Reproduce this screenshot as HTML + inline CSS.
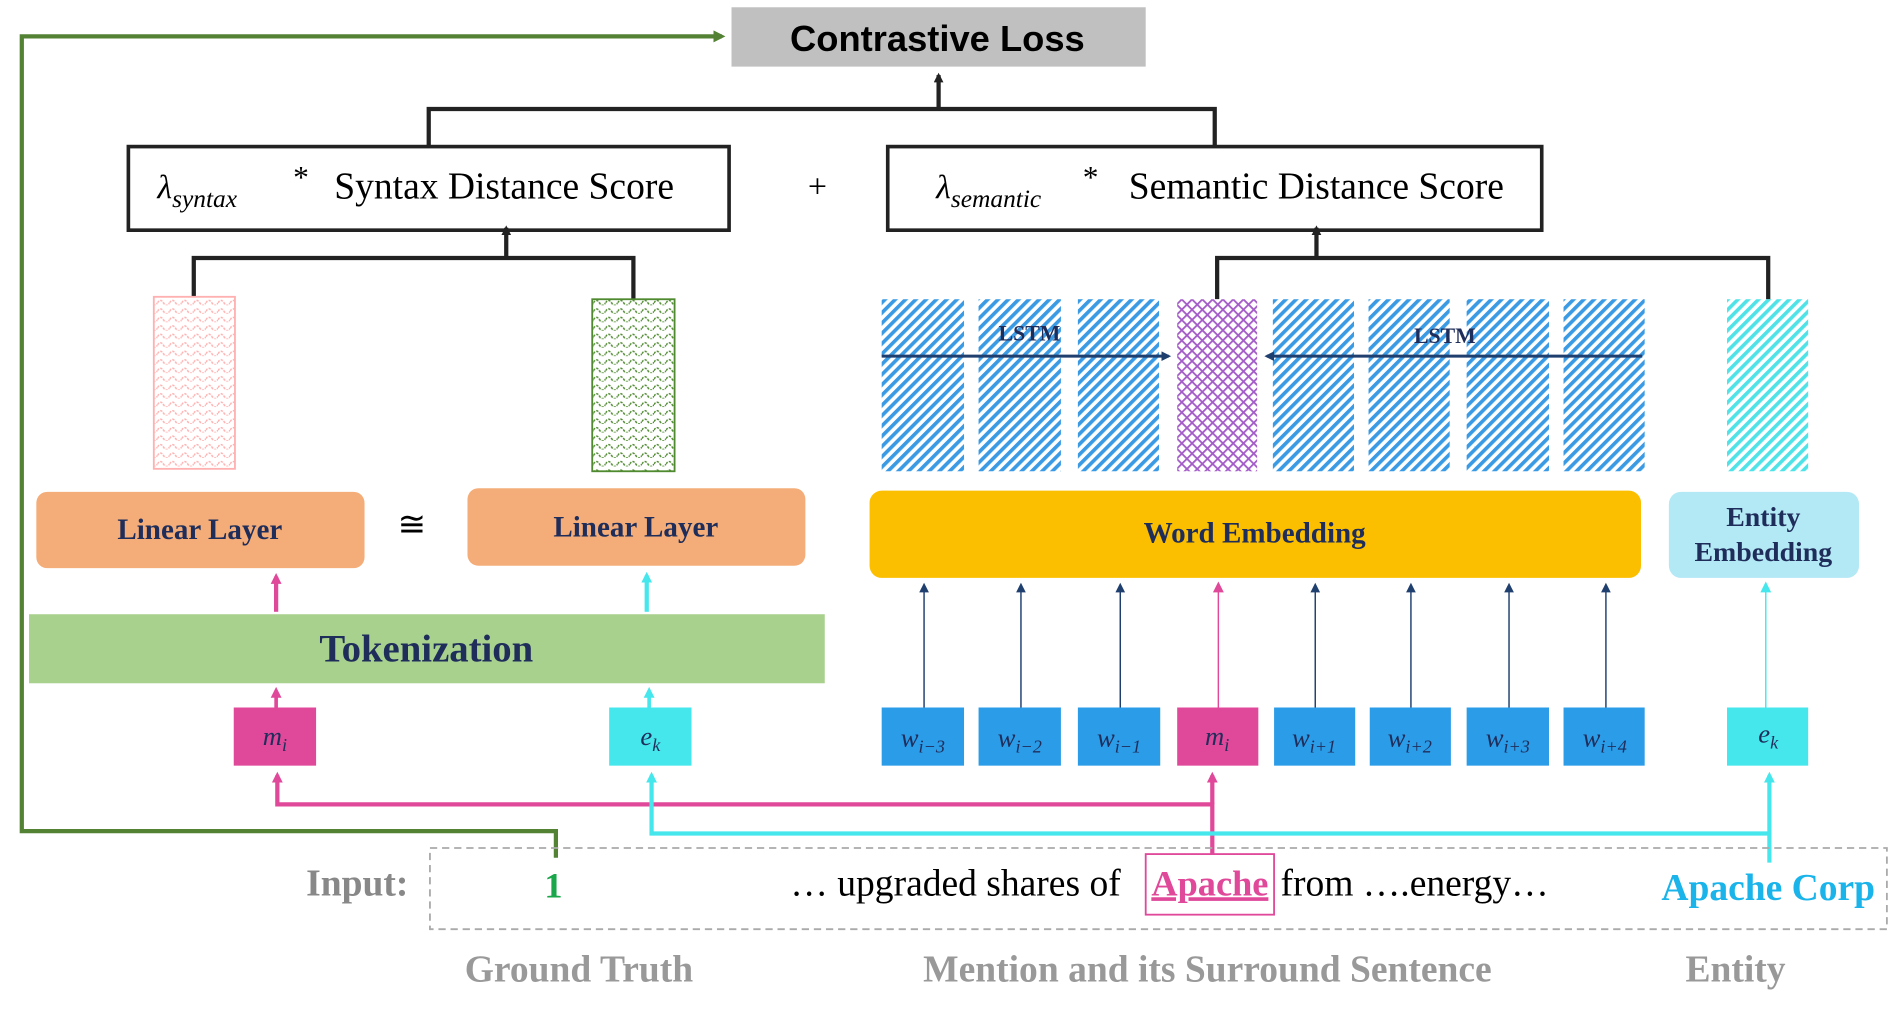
<!DOCTYPE html>
<html><head><meta charset="utf-8"><style>html,body{margin:0;padding:0;background:#fff;overflow:hidden}</style></head>
<body>
<svg width="1899" height="1014" viewBox="0 0 1568 837" preserveAspectRatio="none" xmlns="http://www.w3.org/2000/svg">
<defs>
<pattern id="hb" width="6" height="6" patternUnits="userSpaceOnUse" patternTransform="rotate(45)"><rect width="6" height="6" fill="#fff"/><rect width="3" height="6" fill="#3a9ae4"/></pattern>
<pattern id="hc" width="6" height="6" patternUnits="userSpaceOnUse" patternTransform="rotate(45)"><rect width="6" height="6" fill="#fff"/><rect width="3" height="6" fill="#4fe3e8"/></pattern>
<pattern id="hp" width="6" height="6" patternUnits="userSpaceOnUse" patternTransform="rotate(45)"><rect width="6" height="6" fill="#fff"/><rect width="1.5" height="6" fill="#a45cc8"/><rect width="6" height="1.5" fill="#a45cc8"/></pattern>
<pattern id="wp" width="10" height="7" patternUnits="userSpaceOnUse"><path d="M0 5 Q2.5 1 5 5 T10 5" fill="none" stroke="#ffb0b0" stroke-width="1.2" stroke-dasharray="2 1"/></pattern>
<pattern id="wg" width="10" height="7" patternUnits="userSpaceOnUse"><path d="M0 5 Q2.5 1 5 5 T10 5" fill="none" stroke="#4f8a30" stroke-width="1.2" stroke-dasharray="2 1"/></pattern>
<marker id="ak" markerWidth="8" markerHeight="8" refX="6" refY="4" orient="auto" markerUnits="userSpaceOnUse"><path d="M0 0L8 4L0 8Z" fill="#222"/></marker>
<marker id="ab" markerWidth="8" markerHeight="8" refX="6" refY="4" orient="auto" markerUnits="userSpaceOnUse"><path d="M0 0L8 4L0 8Z" fill="#1f3f6f"/></marker>
<marker id="ap" markerWidth="9" markerHeight="9" refX="6" refY="4.5" orient="auto" markerUnits="userSpaceOnUse"><path d="M0 0L9 4.5L0 9Z" fill="#e0489a"/></marker>
<marker id="ac" markerWidth="9" markerHeight="9" refX="6" refY="4.5" orient="auto" markerUnits="userSpaceOnUse"><path d="M0 0L9 4.5L0 9Z" fill="#45e6ec"/></marker>
<marker id="ag" markerWidth="10" markerHeight="10" refX="7" refY="5" orient="auto" markerUnits="userSpaceOnUse"><path d="M0 0L10 5L0 10Z" fill="#548235"/></marker>
</defs>
<g font-family="Liberation Serif, serif">
<rect x="604" y="6" width="342" height="49" fill="#c0c0c0"/>
<text x="774" y="42" font-family="Liberation Sans, sans-serif" font-weight="bold" font-size="30" text-anchor="middle">Contrastive Loss</text>
<path d="M354 120V90H1003V120" fill="none" stroke="#222" stroke-width="3.5"/>
<line x1="775" y1="90" x2="775" y2="62" stroke="#222" stroke-width="3.5" marker-end="url(#ak)"/>
<rect x="106" y="121" width="496" height="69" fill="#fff" stroke="#222" stroke-width="3"/>
<text x="130" y="164" font-size="28" font-style="italic">λ<tspan font-size="21" dy="7">syntax</tspan></text>
<text x="242" y="155" font-size="26">*</text>
<text x="276" y="164" font-size="31">Syntax Distance Score</text>
<text x="675" y="163" font-size="28" text-anchor="middle">+</text>
<rect x="733" y="121" width="540" height="69" fill="#fff" stroke="#222" stroke-width="3"/>
<text x="773" y="164" font-size="28" font-style="italic">λ<tspan font-size="21" dy="7">semantic</tspan></text>
<text x="894" y="155" font-size="26">*</text>
<text x="932" y="164" font-size="31">Semantic Distance Score</text>
<path d="M160 245V213H523V247" fill="none" stroke="#222" stroke-width="3.5"/>
<line x1="418" y1="213" x2="418" y2="188" stroke="#222" stroke-width="3.5" marker-end="url(#ak)"/>
<path d="M1005 247V213H1460V247" fill="none" stroke="#222" stroke-width="3.5"/>
<line x1="1087" y1="213" x2="1087" y2="188" stroke="#222" stroke-width="3.5" marker-end="url(#ak)"/>
<rect x="127" y="245" width="67" height="142" fill="url(#wp)" stroke="#ffb0b0" stroke-width="1.5"/>
<rect x="489" y="247" width="68" height="142" fill="url(#wg)" stroke="#4f8a30" stroke-width="1.5"/>
<g fill="url(#hb)">
<rect x="728" y="247" width="68" height="142"/><rect x="808" y="247" width="68" height="142"/><rect x="890" y="247" width="67" height="142"/>
<rect x="1051" y="247" width="67" height="142"/><rect x="1130" y="247" width="67" height="142"/><rect x="1211" y="247" width="68" height="142"/><rect x="1291" y="247" width="67" height="142"/>
</g>
<rect x="972" y="247" width="66" height="142" fill="url(#hp)"/>
<rect x="1426" y="247" width="67" height="142" fill="url(#hc)"/>
<line x1="728" y1="294" x2="965" y2="294" stroke="#1f3f6f" stroke-width="2.5" marker-end="url(#ab)"/>
<line x1="1356" y1="294" x2="1046" y2="294" stroke="#1f3f6f" stroke-width="2.5" marker-end="url(#ab)"/>
<text x="850" y="281" font-size="18" font-weight="bold" fill="#1f2d5a" text-anchor="middle">LSTM</text>
<text x="1193" y="283" font-size="18" font-weight="bold" fill="#1f2d5a" text-anchor="middle">LSTM</text>
<rect x="30" y="406" width="271" height="63" rx="9" fill="#f4ad78"/>
<text x="165" y="445" font-size="24" font-weight="bold" fill="#1f2d5a" text-anchor="middle">Linear Layer</text>
<text x="340" y="442" font-size="28" text-anchor="middle">≅</text>
<rect x="386" y="403" width="279" height="64" rx="9" fill="#f4ad78"/>
<text x="525" y="443" font-size="24" font-weight="bold" fill="#1f2d5a" text-anchor="middle">Linear Layer</text>
<rect x="718" y="405" width="637" height="72" rx="10" fill="#fcbf00"/>
<text x="1036" y="448" font-size="24" font-weight="bold" fill="#1f2d5a" text-anchor="middle">Word  Embedding</text>
<rect x="1378" y="406" width="157" height="71" rx="10" fill="#b3e8f5"/>
<text x="1456" y="434" font-size="23" font-weight="bold" fill="#1f2d5a" text-anchor="middle">Entity</text>
<text x="1456" y="463" font-size="23" font-weight="bold" fill="#1f2d5a" text-anchor="middle">Embedding</text>
<rect x="24" y="507" width="657" height="57" fill="#a9d18e"/>
<text x="352" y="546" font-size="32" font-weight="bold" fill="#1f2d5a" text-anchor="middle">Tokenization</text>
<line x1="228" y1="505" x2="228" y2="476" stroke="#e0489a" stroke-width="3.5" marker-end="url(#ap)"/>
<line x1="534" y1="505" x2="534" y2="475" stroke="#45e6ec" stroke-width="3.5" marker-end="url(#ac)"/>
<line x1="228" y1="584" x2="228" y2="570" stroke="#e0489a" stroke-width="3" marker-end="url(#ap)"/>
<line x1="536" y1="584" x2="536" y2="570" stroke="#45e6ec" stroke-width="3" marker-end="url(#ac)"/>
<g fill="#2b9ce8"><rect x="728" y="584" width="68" height="48"/><rect x="808" y="584" width="68" height="48"/><rect x="890" y="584" width="68" height="48"/><rect x="1052" y="584" width="67" height="48"/><rect x="1131" y="584" width="67" height="48"/><rect x="1211" y="584" width="68" height="48"/><rect x="1291" y="584" width="67" height="48"/></g>
<rect x="193" y="584" width="68" height="48" fill="#e0489a"/><rect x="972" y="584" width="67" height="48" fill="#e0489a"/>
<rect x="503" y="584" width="68" height="48" fill="#45e6ec"/><rect x="1426" y="584" width="67" height="48" fill="#45e6ec"/>
<g font-style="italic" font-size="22" fill="#1f2d5a" text-anchor="middle">
<text x="227" y="615">m<tspan font-size="15" dy="5">i</tspan></text>
<text x="537" y="615">e<tspan font-size="15" dy="5">k</tspan></text>
<text x="1005" y="615">m<tspan font-size="15" dy="5">i</tspan></text>
<text x="1460" y="613">e<tspan font-size="15" dy="5">k</tspan></text>
<text x="762" y="616">w<tspan font-size="15" dy="5">i−3</tspan></text>
<text x="842" y="616">w<tspan font-size="15" dy="5">i−2</tspan></text>
<text x="924" y="616">w<tspan font-size="15" dy="5">i−1</tspan></text>
<text x="1085" y="616">w<tspan font-size="15" dy="5">i+1</tspan></text>
<text x="1164" y="616">w<tspan font-size="15" dy="5">i+2</tspan></text>
<text x="1245" y="616">w<tspan font-size="15" dy="5">i+3</tspan></text>
<text x="1325" y="616">w<tspan font-size="15" dy="5">i+4</tspan></text>
</g>
<g stroke="#1f3f6f" stroke-width="1.2">
<line x1="763" y1="584" x2="763" y2="483" marker-end="url(#ab)"/><line x1="843" y1="584" x2="843" y2="483" marker-end="url(#ab)"/><line x1="925" y1="584" x2="925" y2="483" marker-end="url(#ab)"/><line x1="1086" y1="584" x2="1086" y2="483" marker-end="url(#ab)"/><line x1="1165" y1="584" x2="1165" y2="483" marker-end="url(#ab)"/><line x1="1246" y1="584" x2="1246" y2="483" marker-end="url(#ab)"/><line x1="1326" y1="584" x2="1326" y2="483" marker-end="url(#ab)"/>
</g>
<line x1="1006" y1="584" x2="1006" y2="483" stroke="#e0489a" stroke-width="1.2" marker-end="url(#ap)"/>
<line x1="1458" y1="584" x2="1458" y2="483" stroke="#45e6ec" stroke-width="1.2" marker-end="url(#ac)"/>
<path d="M1001 705V664H229V640" fill="none" stroke="#e0489a" stroke-width="3.5" marker-end="url(#ap)"/>
<line x1="1001" y1="664" x2="1001" y2="640" stroke="#e0489a" stroke-width="3.5" marker-end="url(#ap)"/>
<path d="M1461 712V688H538V640" fill="none" stroke="#45e6ec" stroke-width="3.5" marker-end="url(#ac)"/>
<line x1="1461" y1="688" x2="1461" y2="640" stroke="#45e6ec" stroke-width="3.5" marker-end="url(#ac)"/>
<path d="M459 708V686H18V30H596" fill="none" stroke="#548235" stroke-width="3.5" marker-end="url(#ag)"/>
<rect x="355" y="700" width="1203" height="67" fill="none" stroke="#aaa" stroke-width="1.5" stroke-dasharray="6 4"/>
<text x="295" y="739" font-size="31" font-weight="bold" fill="#888" text-anchor="middle">Input:</text>
<text x="457" y="741" font-size="30" font-weight="bold" fill="#1aa64a" text-anchor="middle">1</text>
<text x="789" y="739" font-size="31" text-anchor="middle">… upgraded shares of</text>
<rect x="946" y="705" width="106" height="50" fill="none" stroke="#e0489a" stroke-width="1.5"/>
<text x="999" y="739" font-size="30" font-weight="bold" fill="#e0489a" text-anchor="middle" text-decoration="underline">Apache</text>
<text x="1168" y="739" font-size="31" text-anchor="middle">from ….energy…</text>
<text x="1460" y="743" font-size="31" font-weight="bold" fill="#1ab4ea" text-anchor="middle">Apache Corp</text>
<text x="478" y="810" font-size="31" font-weight="bold" fill="#999" text-anchor="middle">Ground Truth</text>
<text x="997" y="810" font-size="31" font-weight="bold" fill="#999" text-anchor="middle">Mention and its Surround Sentence</text>
<text x="1433" y="810" font-size="31" font-weight="bold" fill="#999" text-anchor="middle">Entity</text>
</g>
</svg>
</body></html>
